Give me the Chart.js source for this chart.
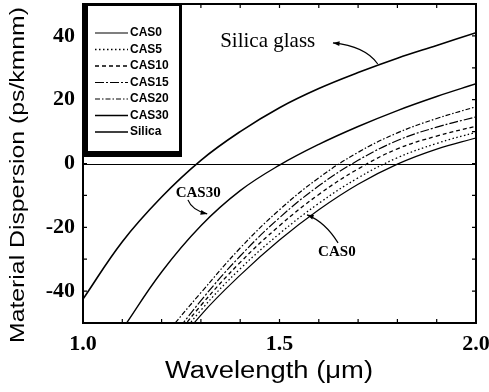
<!DOCTYPE html>
<html>
<head>
<meta charset="utf-8">
<script src="https://cdn.jsdelivr.net/npm/chart.js@4.4.1/dist/chart.umd.min.js"></script>
<style>
  body { margin: 0; background: #fff; }
  #chartBox { width: 489px; height: 392px; }
</style>
</head>
<body>
<div id="chartBox"><canvas id="myChart" width="489" height="392"></canvas></div>
<script>
// wavelength grids (um) and material dispersion (ps/km/nm)
const wlSilica = [1.0, 1.1, 1.2, 1.3, 1.4, 1.5, 1.6, 1.7, 1.8, 1.9, 2.0];
const silica   = [-42.5, -24.5, -10.5, 1, 10, 17.5, 23.5, 28.5, 33, 37, 41];

const wlCas30 = [1.1, 1.2, 1.3, 1.4, 1.5, 1.6, 1.7, 1.8, 1.9, 2.0];
const cas30   = [-52, -34, -19.5, -8.5, -0.5, 6, 11.6, 16.6, 21, 25];

const wlCas = [1.2, 1.3, 1.4, 1.5, 1.6, 1.7, 1.8, 1.9, 2.0];
const cas0  = [-63, -47.5, -35, -24, -14.5, -6.5, -0.2, 4.5, 8];
const cas5  = [-61.5, -46, -33, -22, -12.5, -4.5, 1.8, 6.3, 9.8];
const cas10 = [-60, -44.5, -31, -19.5, -9.7, -1.7, 4.6, 8.6, 11.7];
const cas15 = [-59, -43, -29, -17, -7, 1, 7.2, 11.4, 14.6];
const cas20 = [-55, -40.5, -26.5, -14.5, -4.5, 3.5, 9.6, 14.1, 17.8];

const xTickLabels = ['1.0', '1.5', '2.0'];
const yTickLabels = ['-40', '-20', '0', '20', '40'];

function toPoints(xs, ys) {
    return xs.map((v, i) => ({x: v, y: ys[i]}));
}

function makeSet(label, xs, ys, dash, width) {
    return {
        label: label,
        data: toPoints(xs, ys),
        borderColor: '#000',
        borderWidth: width,
        borderDash: dash,
        pointRadius: 0,
        fill: false,
        tension: 0.4
    };
}

const datasets = [
    makeSet('CAS0', wlCas, cas0, [], 1.2),
    makeSet('CAS5', wlCas, cas5, [1.5, 2.5], 1.3),
    makeSet('CAS10', wlCas, cas10, [4, 3], 1.3),
    makeSet('CAS15', wlCas, cas15, [9, 2, 2, 2], 1.2),
    makeSet('CAS20', wlCas, cas20, [5, 2, 1.5, 2], 1.2),
    makeSet('CAS30', wlCas30, cas30, [], 1.4),
    makeSet('Silica', wlSilica, silica, [], 1.6)
];

// draws text squeezed or stretched along its baseline to a given length
function wideText(ctx, text, cx, cy, font, length, angle) {
    ctx.save();
    ctx.font = font;
    const w = ctx.measureText(text).width;
    ctx.translate(cx, cy);
    ctx.rotate(angle);
    ctx.scale(length / w, 1);
    ctx.textAlign = 'center';
    ctx.textBaseline = 'middle';
    ctx.fillText(text, 0, 0);
    ctx.restore();
}

function arrow(ctx, p0, c, p1) {
    ctx.beginPath();
    ctx.moveTo(p0[0], p0[1]);
    ctx.quadraticCurveTo(c[0], c[1], p1[0], p1[1]);
    ctx.stroke();
    const ang = Math.atan2(p1[1] - c[1], p1[0] - c[0]);
    ctx.beginPath();
    ctx.moveTo(p1[0], p1[1]);
    ctx.lineTo(p1[0] - 7 * Math.cos(ang - 0.35), p1[1] - 7 * Math.sin(ang - 0.35));
    ctx.lineTo(p1[0] - 7 * Math.cos(ang + 0.35), p1[1] - 7 * Math.sin(ang + 0.35));
    ctx.closePath();
    ctx.fill();
}

// keep the plot box fixed: no extra room for half tick labels
function fixX(s) {
    s.height = 69;
    s.paddingLeft = 0;
    s.paddingRight = 0;
}
function fixY(s) {
    s.width = 83;
    s.paddingTop = 0;
    s.paddingBottom = 0;
}

const decorPlugin = {
    id: 'decor',
    beforeDatasetsDraw(chart) {
        const {ctx, chartArea: a, scales: {y}} = chart;
        const y0 = Math.round(y.getPixelForValue(0)) + 0.5;
        ctx.save();
        ctx.strokeStyle = '#000';
        ctx.lineWidth = 1;
        ctx.beginPath();
        ctx.moveTo(a.left, y0);
        ctx.lineTo(a.right, y0);
        ctx.stroke();
        ctx.restore();
    },
    afterDatasetsDraw(chart) {
        const {ctx, chartArea: a, scales: {x, y}} = chart;
        const px = (vx, vy) => [x.getPixelForValue(vx), y.getPixelForValue(vy)];
        ctx.save();
        ctx.strokeStyle = '#000';
        ctx.fillStyle = '#000';

        // frame
        ctx.lineWidth = 2;
        ctx.strokeRect(a.left, a.top, a.right - a.left, a.bottom - a.top);

        // inward ticks on all four sides
        ctx.lineWidth = 1.2;
        ctx.beginPath();
        for (let i = 1; i < 10; i++) {
            const tx = x.getPixelForValue(1 + i / 10);
            ctx.moveTo(tx, a.bottom);
            ctx.lineTo(tx, a.bottom - 4);
            ctx.moveTo(tx, a.top);
            ctx.lineTo(tx, a.top + 4);
        }
        for (let v = -40; v <= 40; v += 10) {
            const ty = y.getPixelForValue(v);
            ctx.moveTo(a.left, ty);
            ctx.lineTo(a.left + 4, ty);
            ctx.moveTo(a.right, ty);
            ctx.lineTo(a.right - 4, ty);
        }
        ctx.stroke();

        // legend box with heavy left and bottom edges
        const box = {l: 84, t: 4, r: 182, b: 157};
        ctx.fillStyle = '#fff';
        ctx.fillRect(box.l, box.t, box.r - box.l, box.b - box.t);
        ctx.fillStyle = '#000';
        ctx.fillRect(box.l, box.t, box.r - box.l, 2);
        ctx.fillRect(box.l, box.t, 4, box.b - box.t);
        ctx.fillRect(box.r - 3, box.t, 3, box.b - box.t);
        ctx.fillRect(box.l, box.b - 6, box.r - box.l, 6);

        ctx.font = 'bold 12px "Liberation Sans", Arial, sans-serif';
        ctx.textAlign = 'left';
        ctx.textBaseline = 'middle';
        chart.data.datasets.forEach((ds, i) => {
            const ry = 33 + i * 16.5;
            ctx.save();
            ctx.lineWidth = ds.borderWidth;
            ctx.setLineDash(ds.borderDash);
            ctx.beginPath();
            ctx.moveTo(95, ry);
            ctx.lineTo(128, ry);
            ctx.stroke();
            ctx.restore();
            ctx.fillText(ds.label, 130, ry);
        });

        // curve labels with arrows
        ctx.lineWidth = 1.2;
        ctx.setLineDash([]);
        ctx.font = '21px "Liberation Serif", "Times New Roman", serif';
        ctx.textAlign = 'center';
        ctx.fillText('Silica glass', ...px(1.47, 38.3));
        arrow(ctx, px(1.75, 31.2), px(1.718, 36.8), px(1.636, 37.8));

        ctx.font = 'bold 15px "Liberation Serif", "Times New Roman", serif';
        ctx.fillText('CAS30', ...px(1.293, -9.2));
        arrow(ctx, px(1.267, -11.4), px(1.277, -14.6), px(1.316, -15.8));

        ctx.fillText('CAS0', ...px(1.646, -27.7));
        arrow(ctx, px(1.649, -24.9), px(1.616, -18.3), px(1.570, -16.1));

        // axis titles
        ctx.fillStyle = '#000';
        wideText(ctx, 'Wavelength (\u03bcm)', 269, 372, '23px "Liberation Sans", Arial, sans-serif', 208, 0);
        wideText(ctx, 'Material Dispersion (ps/kmnm)', 18, 175, '20px "Liberation Sans", Arial, sans-serif', 336, -Math.PI / 2);
        ctx.restore();
    }
};

const ctx = document.getElementById('myChart');

new Chart(ctx, {
    type: 'line',
    data: { datasets: datasets },
    options: {
        responsive: false,
        animation: false,
        events: [],
        layout: { autoPadding: false, padding: { left: 0, right: 13, top: 4, bottom: 0 } },
        plugins: { legend: { display: false }, tooltip: { enabled: false } },
        scales: {
            x: {
                type: 'linear',
                min: 1.0,
                max: 2.0,
                afterFit: fixX,
                grid: { display: false },
                border: { display: false },
                ticks: {
                    stepSize: 0.5,
                    padding: 0,
                    color: '#000',
                    font: { family: '"Liberation Serif", "Times New Roman", serif', size: 22, weight: 'bold' },
                    callback: (v) => xTickLabels.find((t) => Math.abs(parseFloat(t) - v) < 1e-6) || ''
                }
            },
            y: {
                min: -50,
                max: 50,
                afterFit: fixY,
                grid: { display: false },
                border: { display: false },
                ticks: {
                    stepSize: 10,
                    padding: 0,
                    color: '#000',
                    font: { family: '"Liberation Serif", "Times New Roman", serif', size: 22, weight: 'bold' },
                    callback: (v) => yTickLabels.find((t) => Math.abs(parseFloat(t) - v) < 1e-6) || ''
                }
            }
        }
    },
    plugins: [decorPlugin]
});
</script>
</body>
</html>
